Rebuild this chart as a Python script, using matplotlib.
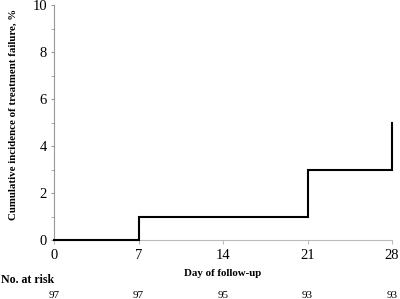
import matplotlib
matplotlib.use("Agg")
import matplotlib.pyplot as plt
import matplotlib.transforms as mtransforms

# step data: cumulative incidence (%)
days = [0, 7, 7, 21, 21, 28, 28]
incidence = [0, 0, 1, 1, 3, 3, 5]

risk_days = [0, 7, 14, 21, 28]
at_risk = [97, 97, 95, 93, 93]

plt.rcParams['font.family'] = ['Liberation Serif', 'DejaVu Serif']

fig = plt.figure(figsize=(4.0, 2.99), dpi=100)
ax = fig.add_axes([0.135, 0.197, 0.845, 0.786])

ax.plot(days, incidence, color='black', linewidth=1.5, solid_joinstyle='miter',
        clip_on=False, zorder=3)

ax.set_xlim(0, 28)
ax.set_ylim(0, 10)
ax.set_xticks(risk_days)
ax.set_yticks([0, 2, 4, 6, 8, 10])
ax.set_yticks(range(0, 11), minor=True)

for s in ['top', 'right']:
    ax.spines[s].set_visible(False)
ax.spines['left'].set_color('#999999')
ax.spines['bottom'].set_color('#bbbbbb')
ax.spines['left'].set_linewidth(0.8)
ax.spines['bottom'].set_linewidth(0.8)

ax.tick_params(axis='y', which='both', direction='out', length=2.5, color='#999999',
               labelsize=10.5, pad=2.5)
ax.tick_params(axis='x', direction='out', length=3, color='#bbbbbb',
               labelsize=10.5, pad=3.5)

ax.set_ylabel('Cumulative incidence of treatment failure, %', fontsize=7.8,
              fontweight='bold')
ax.yaxis.set_label_coords(-0.106, 0.535)
ax.set_xlabel('Day of follow-up', fontsize=7.8, fontweight='bold', labelpad=5)

fig.text(0.003, 0.063, 'No. at risk', fontsize=8.6, fontweight='bold',
         ha='left', va='center')

trans = mtransforms.blended_transform_factory(ax.transData, fig.transFigure)
for d, n in zip(risk_days, at_risk):
    ax.text(d, 0.004, str(n), transform=trans, fontsize=8, ha='center',
            va='baseline', clip_on=False)

fig.savefig('out.png', dpi=100)
